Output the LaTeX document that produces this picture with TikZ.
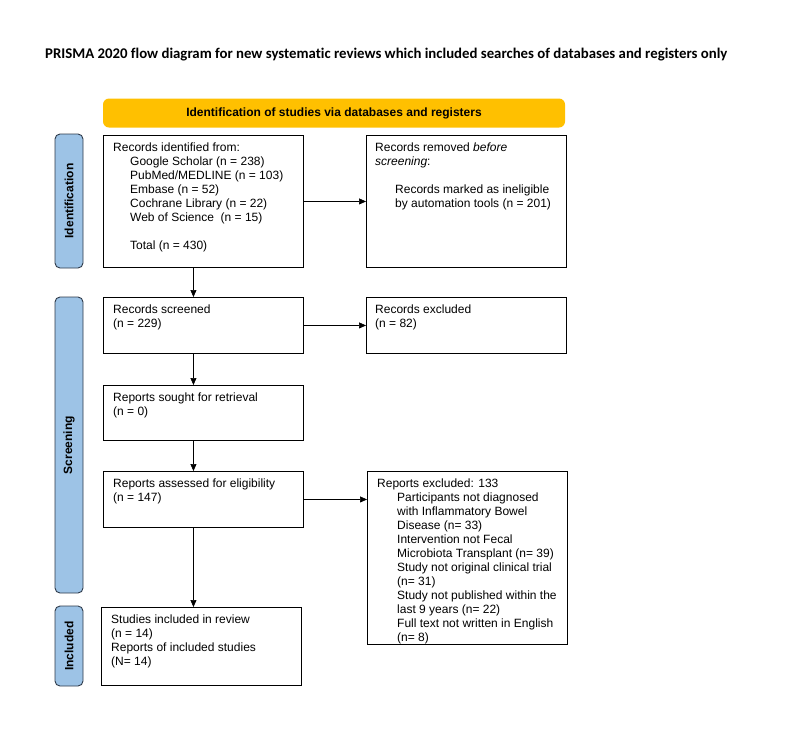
\documentclass[tikz,border=0pt]{standalone}
\usepackage{fontspec}
\setmainfont{Liberation Sans}
\newfontfamily\titlefont[Ligatures=NoCommon]{Carlito}
\usetikzlibrary{arrows.meta}
\definecolor{bannerorange}{HTML}{FFC000}
\definecolor{sideblue}{HTML}{9DC3E6}
\definecolor{sideedge}{HTML}{2E3A4A}
\tikzset{
  box/.style={draw, line width=0.9pt, anchor=north west, minimum width=200pt, inner sep=0pt},
  boxtext/.style={anchor=north west, inner sep=0pt, align=left, font=\fontsize{12}{14}\selectfont},
  sidelabel/.style={draw=sideedge, fill=sideblue, line width=0.9pt, rounded corners=5pt, rotate=90,
    minimum height=28pt, inner sep=0pt, font=\bfseries\fontsize{12}{14}\selectfont},
  arr/.style={-{Triangle[length=7pt,width=6pt]}, line width=0.7pt}
}
\newcommand{\ind}{\hspace*{17pt}}
\begin{document}
\begin{tikzpicture}[x=1pt, y=-1pt]
        \useasboundingbox (0,0) rectangle (791,742);

        % Title
        \node[anchor=west, inner sep=0pt, font=\titlefont\bfseries\fontsize{14.8}{17}\selectfont] (title) at (45,55)
          {PRISMA 2020 flow diagram for new systematic reviews which included searches of databases and registers only};

        % Banner
        \node[fill=bannerorange, rounded corners=6pt, minimum width=462pt, minimum height=29pt,
          font=\bfseries\fontsize{12}{14}\selectfont] (banner) at (334,113)
          {Identification of studies via databases and registers};

        % Side labels
        \node[sidelabel, minimum width=134pt] (sideId) at (69,201) {Identification};
        \node[sidelabel, minimum width=296pt] (sideScr) at (69,445) {Screening};
        \node[sidelabel, minimum width=80pt] (sideInc) at (69,646) {Included};

        % Boxes
        \node[box, minimum height=132pt] (ident) at (103,135) {};
        \node[boxtext] (identT) at (113,143) {Records identified from:\\
          \ind Google Scholar (n = 238)\\
          \ind PubMed/MEDLINE (n = 103)\\
          \ind Embase (n = 52)\\
          \ind Cochrane Library (n = 22)\\
          \ind Web of Science\ \ (n = 15)\\[14pt]
          \ind Total (n = 430)};

        \node[box, minimum height=132pt] (removed) at (366,135) {};
        \node[boxtext] (removedT) at (375,143) {Records removed \textit{before}\\
          \textit{screening}:\\[14pt]
          \hspace*{20pt}Records marked as ineligible\\
          \hspace*{20pt}by automation tools (n = 201)};

        \node[box, minimum height=56pt] (screen) at (103,297) {};
        \node[boxtext] (screenT) at (113,305) {Records screened\\(n = 229)};

        \node[box, minimum height=56pt] (excl) at (366,297) {};
        \node[boxtext] (exclT) at (375,305) {Records excluded\\(n = 82)};

        \node[box, minimum height=55pt] (sought) at (103,385) {};
        \node[boxtext] (soughtT) at (113,393) {Reports sought for retrieval\\(n = 0)};

        \node[box, minimum height=56pt] (assess) at (103,471) {};
        \node[boxtext] (assessT) at (113,479) {Reports assessed for eligibility\\(n = 147)};

        \node[box, minimum height=173pt] (rexcl) at (367,471) {};
        \node[boxtext] (rexclT) at (377,479) {Reports excluded: 133\\
          \hspace*{20pt}Participants not diagnosed\\
          \hspace*{20pt}with Inflammatory Bowel\\
          \hspace*{20pt}Disease (n= 33)\\
          \hspace*{20pt}Intervention not Fecal\\
          \hspace*{20pt}Microbiota Transplant (n= 39)\\
          \hspace*{20pt}Study not original clinical trial\\
          \hspace*{20pt}(n= 31)\\
          \hspace*{20pt}Study not published within the\\
          \hspace*{20pt}last 9 years (n= 22)\\
          \hspace*{20pt}Full text not written in English\\
          \hspace*{20pt}(n= 8)};

        \node[box, minimum height=78pt] (incl) at (101,607) {};
        \node[boxtext] (inclT) at (111,615) {Studies included in review\\(n = 14)\\
          Reports of included studies\\(N= 14)};

        % Arrows
        \draw[arr] ([xshift=-10pt]ident.south) -- ([xshift=-10pt]screen.north);
        \draw[arr] ([xshift=-10pt]screen.south) -- ([xshift=-10pt]sought.north);
        \draw[arr] ([xshift=-10pt]sought.south) -- ([xshift=-10pt]assess.north);
        \draw[arr] ([xshift=-10pt]assess.south) -- ([xshift=-8pt]incl.north);
        \draw[arr] (ident.east) -- (removed.west);
        \draw[arr] (screen.east) -- (excl.west);
        \draw[arr] (assess.east) -- (assess.east -| rexcl.west);
\end{tikzpicture}
\end{document}
